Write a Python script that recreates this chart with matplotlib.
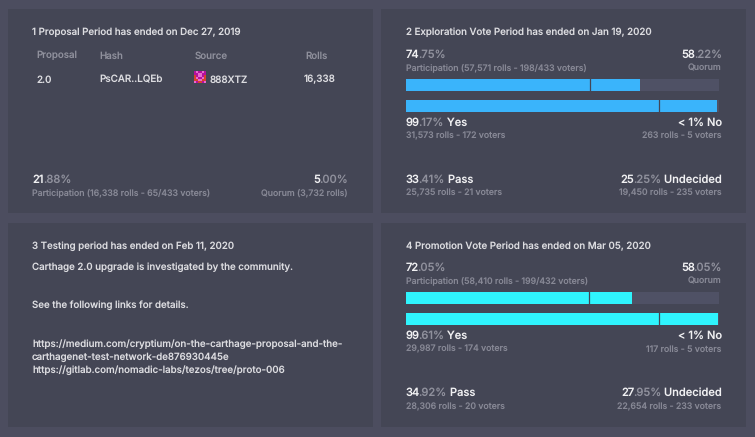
import numpy as np
import matplotlib
matplotlib.use("Agg")
import matplotlib.pyplot as plt
from matplotlib.colors import ListedColormap
from matplotlib.patches import Rectangle

plt.rcParams['font.family'] = ['Inter', 'DejaVu Sans']
plt.rcParams['text.hinting'] = 'none'
plt.rcParams['text.hinting_factor'] = 1

W, H = 755, 437
BG = '#4c4d5f'
PANEL = '#444655'
TRACK = '#4f5165'
WHITE = '#f0f0f2'
BRIGHT = '#dcdce0'
GREY = '#8f909c'
DIM = '#878895'

# --- data ---
panel_titles = ["1 Proposal Period has ended on Dec 27, 2019",
                "2 Exploration Vote Period has ended on Jan 19, 2020",
                "3 Testing period has ended on Feb 11, 2020",
                "4 Promotion Vote Period has ended on Mar 05, 2020"]
proposal_headers = ["Proposal", "Hash", "Source", "Rolls"]
proposal_row = ["2.0", "PsCAR..LQEb", "888XTZ", "16,338"]

participation_pct = [74.75, 72.05]
yes_pct = [99.17, 99.61]
quorum_mark = [58.7, 58.5]
supermajority_mark = [80.8, 80.7]
bar_colors = ['#3ab4fb', '#2ff4fd']

participation_big = [("74", ".75%"), ("72", ".05%")]
quorum_big = [("58", ".22%"), ("58", ".05%")]
participation_sub = ["Participation (57,571 rolls - 198/433 voters)",
                     "Participation (58,410 rolls - 199/432 voters)"]
yes_big = [("99", ".17%"), ("99", ".61%")]
yes_sub = ["31,573 rolls - 172 voters", "29,987 rolls - 174 voters"]
no_sub = ["263 rolls - 5 voters", "117 rolls - 5 voters"]
pass_big = [("33", ".41%"), ("34", ".92%")]
pass_sub = ["25,735 rolls - 21 voters", "28,306 rolls - 20 voters"]
undecided_big = [("25", ".25%"), ("27", ".95%")]
undecided_sub = ["19,450 rolls - 235 voters", "22,654 rolls - 233 voters"]

testing_lines = ["Carthage 2.0 upgrade is investigated by the community.",
                 "See the following links for details.",
                 "https://medium.com/cryptium/on-the-carthage-proposal-and-the-",
                 "carthagenet-test-network-de876930445e",
                 "https://gitlab.com/nomadic-labs/tezos/tree/proto-006"]

avatar_cells = [[0, 1, 0, 0, 1, 0],
                [0, 0, 1, 1, 0, 0],
                [2, 0, 1, 1, 0, 2],
                [2, 1, 0, 0, 1, 2],
                [2, 2, 1, 1, 2, 2],
                [1, 0, 2, 2, 0, 1]]
avatar_palette = ['#b4109e', '#e86ad0', '#d9402f']

fig = plt.figure(figsize=(W / 100, H / 100), dpi=100, facecolor=BG)
ax = fig.add_axes([0, 0, 1, 1])
ax.set_xlim(0, W)
ax.set_ylim(H, 0)
ax.axis('off')

S_TITLE = 7.0
S_BIG = 8.0
S_SUB = 6.3
S_ROW = 7.1
DOT_TIGHTEN = 1.2


def txt(x, y, s, color=BRIGHT, size=S_TITLE, ha='left', weight=500):
    return ax.text(x, y + 0.5 * size, s, color=color, fontsize=size, ha=ha,
                   va='baseline', fontweight=weight)


def rich(x, y, parts, ha='left', size=S_BIG):
    """Draw (text, colour) runs one after another, anchored left or right."""
    r = fig.canvas.get_renderer()
    probe = txt(0, y, "", size=size)
    starts, prefix, tighten = [], "", 0.0
    for s, _ in parts:
        if s.startswith('.'):
            tighten += DOT_TIGHTEN
        probe.set_text(prefix + s)
        full = probe.get_window_extent(r).width
        probe.set_text(s)
        starts.append(full - probe.get_window_extent(r).width - tighten)
        prefix += s
    probe.set_text(prefix)
    total = probe.get_window_extent(r).width - tighten
    probe.remove()
    x0 = x if ha == 'left' else x - total
    for (s, c), st in zip(parts, starts):
        txt(x0 + st, y, s, color=c, size=size)


def bar(x0, x1, y0, y1, value, mark, color):
    a = fig.add_axes([x0 / W, 1 - y1 / H, (x1 - x0) / W, (y1 - y0) / H])
    a.set_xlim(0, 100)
    a.set_ylim(0, 1)
    a.axis('off')
    a.barh(0.5, 100, height=1, color=TRACK, left=0)
    a.barh(0.5, value, height=1, color=color, left=0)
    a.axvline(mark, color=PANEL, lw=0.9)


# panels
for (px, py) in [(8, 9), (381, 9), (8, 223), (381, 223)]:
    ax.add_patch(Rectangle((px, py), 365, 204, color=PANEL, lw=0))

# panel 1
txt(32, 32, panel_titles[0])
for x, s in zip([36.5, 99.5, 194.5, 305], proposal_headers):
    txt(x, 55, s, color=GREY, size=7.0)
for x, s in zip([36, 99, 210, 304], proposal_row):
    txt(x, 79, s, color=BRIGHT, size=S_ROW)
rich(32.5, 179, [("21", WHITE), (".88%", GREY)])
txt(32.5, 192.5, "Participation (16,338 rolls - 65/433 voters)", color=DIM, size=S_SUB)
rich(348, 179, [("5", WHITE), (".00%", GREY)], ha='right')
txt(347.5, 192.5, "Quorum (3,732 rolls)", color=DIM, size=S_SUB, ha='right')

# panel 3
txt(32, 245.5, panel_titles[2])
for y, s in zip([266, 304, 343, 356, 369], testing_lines):
    txt(32, y, s)

# vote panels
for i, ty in enumerate([0, 218 - 4.7]):
    title_y = 32 + ty
    txt(405.5, title_y, panel_titles[2 * i + 1])
    rich(405.5, 53.5 + ty, [(participation_big[i][0], WHITE), (participation_big[i][1], GREY)])
    txt(405.5, 66.8 + ty, participation_sub[i], color=DIM, size=S_SUB)
    rich(722, 53.5 + ty, [(quorum_big[i][0], WHITE), (quorum_big[i][1], GREY)], ha='right')
    txt(721.5, 66.8 + ty, "Quorum", color=DIM, size=S_SUB, ha='right')
    bar(405.7, 719.3, 79 + ty, 91 + ty, participation_pct[i], quorum_mark[i], bar_colors[i])
    bar(405.7, 719.3, 99.5 + ty, 111.5 + ty, yes_pct[i], supermajority_mark[i], bar_colors[i])
    rich(405.5, 122 + ty, [(yes_big[i][0], WHITE), (yes_big[i][1], GREY), (" Yes", WHITE)])
    txt(405.5, 135 + ty, yes_sub[i], color=DIM, size=S_SUB)
    rich(722, 122 + ty, [("< 1% No", WHITE)], ha='right')
    txt(721.5, 135 + ty, no_sub[i], color=DIM, size=S_SUB, ha='right')
    rich(405.5, 179 + ty, [(pass_big[i][0], WHITE), (pass_big[i][1], GREY), (" Pass", WHITE)])
    txt(405.5, 192.5 + ty, pass_sub[i], color=DIM, size=S_SUB)
    rich(722, 179 + ty, [(undecided_big[i][0], WHITE), (undecided_big[i][1], GREY), (" Undecided", WHITE)], ha='right')
    txt(721.5, 192.5 + ty, undecided_sub[i], color=DIM, size=S_SUB, ha='right')

# source avatar
ax.imshow(np.array(avatar_cells), cmap=ListedColormap(avatar_palette), vmin=0, vmax=2,
          extent=(194, 206, 83, 71), aspect='auto', interpolation='nearest', zorder=3)
ax.set_xlim(0, W)
ax.set_ylim(H, 0)

fig.savefig('out.png', dpi=100, facecolor=BG)
